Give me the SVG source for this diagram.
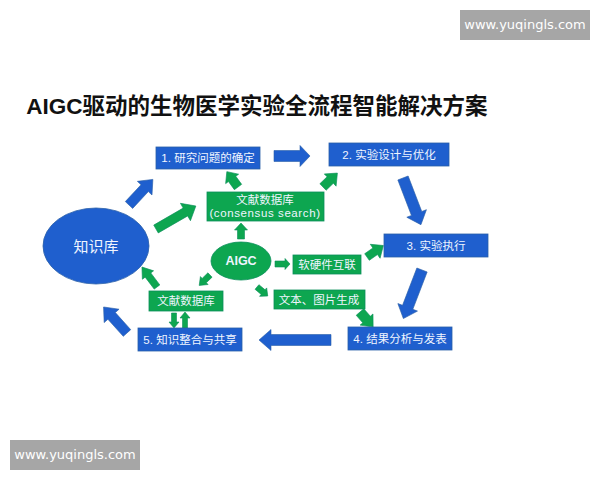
<svg xmlns="http://www.w3.org/2000/svg" width="600" height="480" viewBox="0 0 600 480">
<style>
text{font-family:"Liberation Sans","Noto Sans CJK SC",sans-serif;text-anchor:middle;dominant-baseline:central}
.b rect,.be{fill:#1f5fce;stroke:#2a5fa8;stroke-width:.8}
.g rect,.ge{fill:#0da650;stroke:#0b8f5a;stroke-width:.8}
.t{fill:#f0f5ff;font-size:11.5px}
.wm rect{fill:#a6a6a6}
.wm text{fill:#fff;font-size:13px;font-family:"DejaVu Sans",sans-serif}
.ab{fill:#1f5fce;stroke:#2a5fa8;stroke-width:.6}
.ag{fill:#0da650;stroke:#0b8f5a;stroke-width:.6}
</style>
<rect width="600" height="480" fill="#fff"/>
<g id="wm-top" class="wm"><rect x="460" y="10" width="130" height="30"/><text x="525" y="24">www.yuqingls.com</text></g>
<g id="wm-bottom" class="wm"><rect x="10" y="440" width="130" height="30"/><text x="75" y="454">www.yuqingls.com</text></g>
<text id="title" x="257" y="106" font-size="22.5" font-weight="700" fill="#111" style="font-family:'Liberation Sans','Noto Sans CJK SC',sans-serif">AIGC驱动的生物医学实验全流程智能解决方案</text>
<g id="connectors">
<polygon class="ab" transform="translate(129 205) rotate(-47)" points="0,-5 23,-5 23,-10 35,0 23,10 23,5 0,5"/>
<polygon class="ag" transform="translate(156 229) rotate(-30)" points="0,-4.5 34,-4.5 34,-10 46,0 34,10 34,4.5 0,4.5"/>
<polygon class="ag" transform="translate(238 187) rotate(-126)" points="0,-4.5 10,-4.5 10,-8 19,0 10,8 10,4.5 0,4.5"/>
<polygon class="ag" transform="translate(241 239) rotate(-90)" points="0,-3.5 9,-3.5 9,-6.5 16,0 9,6.5 9,3.5 0,3.5"/>
<polygon class="ab" transform="translate(274 156)" points="0,-5.5 26,-5.5 26,-10.5 36,0 26,10.5 26,5.5 0,5.5"/>
<polygon class="ag" transform="translate(323 187) rotate(-44)" points="0,-4.5 10,-4.5 10,-8.5 20,0 10,8.5 10,4.5 0,4.5"/>
<polygon class="ab" transform="translate(403 178) rotate(69)" points="0,-5.5 38,-5.5 38,-10.5 50,0 38,10.5 38,5.5 0,5.5"/>
<polygon class="ag" transform="translate(367 257) rotate(-35)" points="0,-4 10,-4 10,-8.5 20,0 10,8.5 10,4 0,4"/>
<polygon class="ag" transform="translate(275 264)" points="0,-3 10,-3 10,-5.5 15,0 10,5.5 10,3 0,3"/>
<polygon class="ag" transform="translate(257 287) rotate(40)" points="0,-3 8,-3 8,-5.5 14,0 8,5.5 8,3 0,3"/>
<polygon class="ag" transform="translate(360 312) rotate(49)" points="0,-5 10,-5 10,-8.5 20,0 10,8.5 10,5 0,5"/>
<polygon class="ab" transform="translate(422 270) rotate(111)" points="0,-5.5 40,-5.5 40,-10.5 52,0 40,10.5 40,5.5 0,5.5"/>
<polygon class="ab" transform="translate(331 340) rotate(180)" points="0,-5.5 60,-5.5 60,-10.5 72,0 60,10.5 60,5.5 0,5.5"/>
<polygon class="ab" transform="translate(127 333) rotate(-132)" points="0,-5 23,-5 23,-10 35,0 23,10 23,5 0,5"/>
<polygon class="ag" transform="translate(157 287) rotate(-127)" points="0,-3.5 15,-3.5 15,-7 25,0 15,7 15,3.5 0,3.5"/>
<polygon class="ag" transform="translate(210 275) rotate(136)" points="0,-3 8,-3 8,-5.5 15,0 8,5.5 8,3 0,3"/>
<polygon class="ag" transform="translate(174 313) rotate(90)" points="0,-2.5 9,-2.5 9,-5 15,0 9,5 9,2.5 0,2.5"/>
<polygon class="ag" transform="translate(185 328) rotate(-90)" points="0,-2.5 10,-2.5 10,-5 16,0 10,5 10,2.5 0,2.5"/>
</g>
<g id="kb"><ellipse class="be" cx="96" cy="246" rx="53" ry="38"/><text class="t" x="96" y="246" font-size="15" style="font-size:15px">知识库</text></g>
<g id="aigc"><ellipse class="ge" cx="241" cy="261" rx="30" ry="19"/><text class="t" x="241" y="261" style="font-size:12.5px;font-weight:700">AIGC</text></g>
<g id="step1" class="b"><rect x="156" y="147" width="104" height="22"/><text class="t" x="208" y="158">1. 研究问题的确定</text></g>
<g id="step2" class="b"><rect x="329" y="143" width="120" height="23"/><text class="t" x="389" y="155">2. 实验设计与优化</text></g>
<g id="step3" class="b"><rect x="384" y="234" width="104" height="23"/><text class="t" x="436" y="246">3. 实验执行</text></g>
<g id="step4" class="b"><rect x="348" y="327" width="104" height="23"/><text class="t" x="400" y="339">4. 结果分析与发表</text></g>
<g id="step5" class="b"><rect x="138" y="328" width="104" height="23"/><text class="t" x="190" y="340">5. 知识整合与共享</text></g>
<g id="db-top" class="g"><rect x="207" y="192" width="117" height="29"/><text class="t" x="265" y="200">文献数据库</text><text class="t" x="265" y="213" style="letter-spacing:.6px">(consensus search)</text></g>
<g id="db-bottom" class="g"><rect x="149" y="291" width="74" height="20"/><text class="t" x="186" y="301">文献数据库</text></g>
<g id="hw" class="g"><rect x="293" y="255" width="68" height="19"/><text class="t" x="327" y="265">软硬件互联</text></g>
<g id="gen" class="g"><rect x="274" y="290" width="91" height="19"/><text class="t" x="319" y="300">文本、图片生成</text></g>
</svg>
